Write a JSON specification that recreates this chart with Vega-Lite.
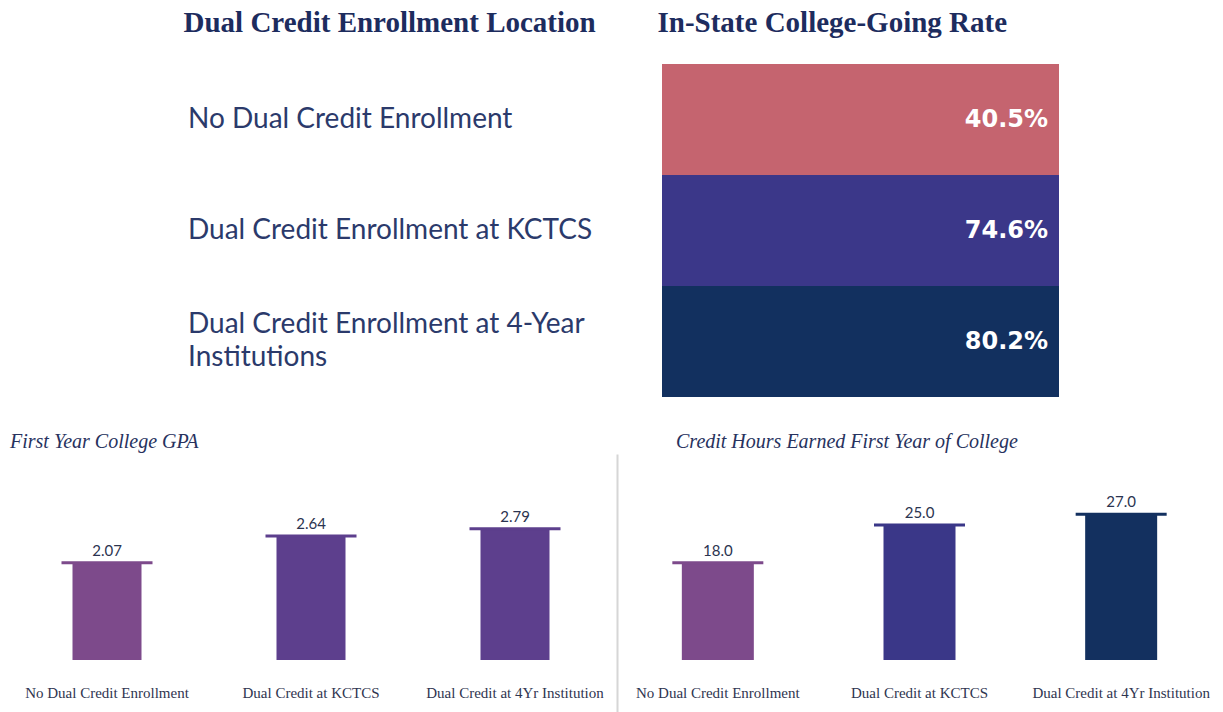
{
  "$schema": "https://vega.github.io/schema/vega-lite/v6.json",
  "padding": {"left": 5, "top": 8, "right": 0, "bottom": 0},
  "background": "white",
  "config": {"view": {"stroke": null}, "axis": {"grid": false}},
  "datasets": {
    "rate": [
      {"location": "No Dual Credit Enrollment", "rate": 0.405},
      {"location": "Dual Credit Enrollment at KCTCS", "rate": 0.746},
      {"location": "Dual Credit Enrollment at 4-Year\nInstitutions", "rate": 0.802}
    ],
    "gpa": [
      {"group": "No Dual Credit Enrollment", "gpa": 2.07},
      {"group": "Dual Credit at KCTCS", "gpa": 2.64},
      {"group": "Dual Credit at 4Yr Institution", "gpa": 2.79}
    ],
    "credits": [
      {"group": "No Dual Credit Enrollment", "credits": 18.0},
      {"group": "Dual Credit at KCTCS", "credits": 25.0},
      {"group": "Dual Credit at 4Yr Institution", "credits": 27.0}
    ]
  },
  "spacing": 35,
  "vconcat": [
    {
      "data": {"name": "rate"},
      "width": 1054,
      "height": 333,
      "encoding": {
        "y": {
          "field": "location",
          "type": "nominal",
          "sort": ["No Dual Credit Enrollment", "Dual Credit Enrollment at KCTCS", "Dual Credit Enrollment at 4-Year\nInstitutions"],
          "scale": {"paddingInner": 0, "paddingOuter": 0},
          "axis": null
        }
      },
      "layer": [
        {
          "mark": {"type": "rect"},
          "encoding": {
            "x": {
              "datum": "In-State College-Going Rate",
              "type": "nominal",
              "scale": {"domain": ["Dual Credit Enrollment Location", "In-State College-Going Rate"], "paddingInner": 0.16245, "paddingOuter": 0.19304, "align": 1},
              "axis": {"orient": "top", "title": null, "labelAngle": 0, "labelAlign": "left", "labelBaseline": "alphabetic", "labelPadding": 33, "labelOffset": -203, "labelFont": "Liberation Serif", "labelFontWeight": "bold", "labelFontSize": 29, "labelColor": "#1d2c5e", "labelLimit": 0, "ticks": false, "tickSize": 0, "domain": false}
            },
            "color": {
              "field": "location",
              "type": "nominal",
              "scale": {
                "domain": ["No Dual Credit Enrollment", "Dual Credit Enrollment at KCTCS", "Dual Credit Enrollment at 4-Year\nInstitutions"],
                "range": ["#c5646f", "#3b3789", "#12305f"]
              },
              "legend": null
            }
          }
        },
        {
          "transform": [{"filter": "indexof(datum.location, '\\n') < 0"}],
          "mark": {"type": "text", "align": "left", "baseline": "middle", "font": "Lato", "fontSize": 28, "color": "#2b3a6b", "lineBreak": "\n", "lineHeight": 33},
          "encoding": {
            "x": {
              "datum": "Dual Credit Enrollment Location",
              "type": "nominal",
              "bandPosition": 0,
              "axis": {"orient": "top", "title": null, "labelAngle": 0, "labelAlign": "left", "labelBaseline": "alphabetic", "labelPadding": 33, "labelOffset": -203, "labelFont": "Liberation Serif", "labelFontWeight": "bold", "labelFontSize": 29, "labelColor": "#1d2c5e", "labelLimit": 0, "ticks": false, "tickSize": 0, "domain": false}
            },
            "text": {"field": "location"}
          }
        },
        {
          "transform": [{"filter": "indexof(datum.location, '\\n') >= 0"}],
          "mark": {"type": "text", "align": "left", "baseline": "middle", "dy": -16.5, "font": "Lato", "fontSize": 28, "color": "#2b3a6b", "lineBreak": "\n", "lineHeight": 33},
          "encoding": {
            "x": {
              "datum": "Dual Credit Enrollment Location",
              "type": "nominal",
              "bandPosition": 0,
              "axis": {"orient": "top", "title": null, "labelAngle": 0, "labelAlign": "left", "labelBaseline": "alphabetic", "labelPadding": 33, "labelOffset": -203, "labelFont": "Liberation Serif", "labelFontWeight": "bold", "labelFontSize": 29, "labelColor": "#1d2c5e", "labelLimit": 0, "ticks": false, "tickSize": 0, "domain": false}
            },
            "text": {"field": "location"}
          }
        },
        {
          "mark": {"type": "text", "align": "right", "baseline": "middle", "dx": -11, "font": "DejaVu Sans", "fontWeight": "bold", "fontSize": 24, "color": "white"},
          "encoding": {
            "x": {
              "datum": "In-State College-Going Rate",
              "type": "nominal",
              "bandPosition": 1,
              "axis": {"orient": "top", "title": null, "labelAngle": 0, "labelAlign": "left", "labelBaseline": "alphabetic", "labelPadding": 33, "labelOffset": -203, "labelFont": "Liberation Serif", "labelFontWeight": "bold", "labelFontSize": 29, "labelColor": "#1d2c5e", "labelLimit": 0, "ticks": false, "tickSize": 0, "domain": false}
            },
            "text": {"field": "rate", "type": "quantitative", "format": ".1%"}
          }
        }
      ]
    },
    {
      "spacing": 0,
      "resolve": {"scale": {"x": "independent", "y": "independent", "color": "independent"}},
      "hconcat": [
        {
          "data": {"name": "gpa"},
          "width": 612,
          "height": 260,
          "title": {"text": "First Year College GPA", "anchor": "start", "frame": "group", "dx": 5, "offset": -14, "baseline": "alphabetic", "font": "Liberation Serif", "fontStyle": "italic", "fontWeight": "normal", "fontSize": 20, "color": "#27325e"},
          "encoding": {
            "x": {
              "field": "group",
              "type": "nominal",
              "sort": ["No Dual Credit Enrollment", "Dual Credit at KCTCS", "Dual Credit at 4Yr Institution"],
              "scale": {"paddingInner": 0, "paddingOuter": 0},
              "axis": {"title": null, "labelAngle": 0, "ticks": false, "tickSize": 0, "domain": false, "offset": -54, "labelPadding": 37, "labelBaseline": "alphabetic", "labelFont": "Liberation Serif", "labelFontSize": 15, "labelColor": "#2f3550", "labelLimit": 0}
            },
            "y": {"field": "gpa", "type": "quantitative", "scale": {"domain": [-1.149, 4.383], "nice": false, "zero": false}, "axis": null},
            "color": {
              "field": "group",
              "type": "nominal",
              "scale": {"domain": ["No Dual Credit Enrollment", "Dual Credit at KCTCS", "Dual Credit at 4Yr Institution"], "range": ["#7d4a8b", "#5d3f8d", "#5d3f8d"]},
              "legend": null
            }
          },
          "layer": [
            {"mark": {"type": "bar", "width": 69}, "encoding": {"y2": {"datum": 0}}},
            {"mark": {"type": "tick", "size": 91, "thickness": 3, "opacity": 1}},
            {
              "mark": {"type": "text", "dy": -12, "baseline": "middle", "font": "Lato", "fontSize": 15},
              "encoding": {"text": {"field": "gpa", "type": "quantitative", "format": ".2f"}, "color": {"value": "#2b3450"}}
            }
          ]
        },
        {
          "data": {"name": "credits"},
          "width": 605,
          "height": 260,
          "title": {"text": "Credit Hours Earned First Year of College", "anchor": "start", "frame": "group", "dx": 59, "offset": -14, "baseline": "alphabetic", "font": "Liberation Serif", "fontStyle": "italic", "fontWeight": "normal", "fontSize": 20, "color": "#27325e"},
          "encoding": {
            "x": {
              "field": "group",
              "type": "nominal",
              "sort": ["No Dual Credit Enrollment", "Dual Credit at KCTCS", "Dual Credit at 4Yr Institution"],
              "scale": {"paddingInner": 0, "paddingOuter": 0},
              "axis": {"title": null, "labelAngle": 0, "ticks": false, "tickSize": 0, "domain": false, "offset": -54, "labelPadding": 37, "labelBaseline": "alphabetic", "labelFont": "Liberation Serif", "labelFontSize": 15, "labelColor": "#2f3550", "labelLimit": 0}
            },
            "y": {
              "field": "credits",
              "type": "quantitative",
              "scale": {"domain": [-10, 38.148], "nice": false, "zero": false},
              "axis": {"title": null, "labels": false, "ticks": false, "grid": false, "domain": true, "domainColor": "#d6d6d6", "domainWidth": 2}
            },
            "color": {
              "field": "group",
              "type": "nominal",
              "scale": {"domain": ["No Dual Credit Enrollment", "Dual Credit at KCTCS", "Dual Credit at 4Yr Institution"], "range": ["#7d4a8b", "#3a3788", "#13305f"]},
              "legend": null
            }
          },
          "layer": [
            {"mark": {"type": "bar", "width": 72}, "encoding": {"y2": {"datum": 0}}},
            {"mark": {"type": "tick", "size": 91, "thickness": 3, "opacity": 1}},
            {
              "mark": {"type": "text", "dy": -12, "baseline": "middle", "font": "Lato", "fontSize": 15},
              "encoding": {"text": {"field": "credits", "type": "quantitative", "format": ".1f"}, "color": {"value": "#2b3450"}}
            }
          ]
        }
      ]
    }
  ]
}
